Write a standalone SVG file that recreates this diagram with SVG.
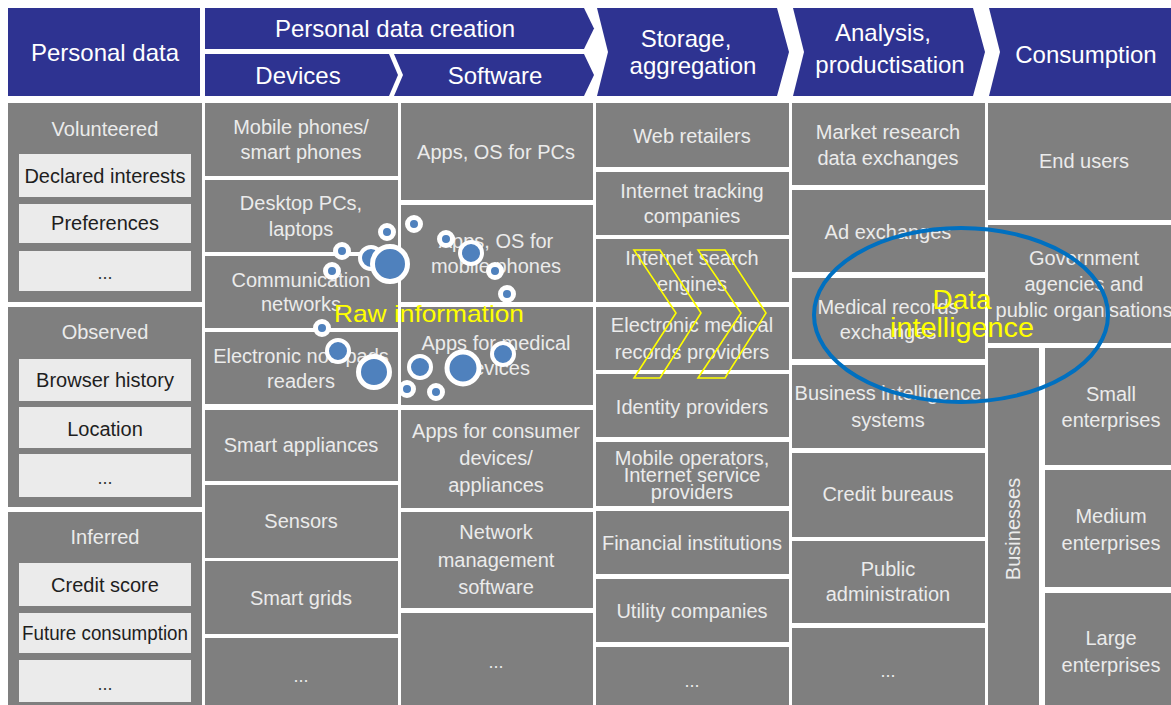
<svg xmlns="http://www.w3.org/2000/svg" width="1171" height="705" viewBox="0 0 1171 705">
<style>
.hdr{fill:#2e3391}
.pnl{fill:#7f7f7f}
.wb{fill:#ebebeb}
text{font-family:"Liberation Sans",Arial,sans-serif;text-anchor:middle}
.ht{fill:#ffffff;font-size:24px}
.lt{fill:#ebebeb;font-size:20px}
.dk{fill:#1e1e1e;font-size:20px}
.dots{fill:#ebebeb;font-size:18px}
.dotd{fill:#333333;font-size:18px}
.bs{fill:#4f81bd;stroke:#ffffff;stroke-width:5}
.bm{fill:#4f81bd;stroke:#ffffff;stroke-width:4}
.bl{fill:#4f81bd;stroke:#ffffff;stroke-width:5}
.yel{fill:#ffff00}
.chev{fill:none;stroke:#ffff00;stroke-width:1.6;stroke-linejoin:miter}
</style>
<rect width="1171" height="705" fill="#ffffff"/>

<!-- Headers -->
<g id="hdr-personal-data"><rect class="hdr" x="8" y="8" width="192" height="88"/><text class="ht" x="105" y="61">Personal data</text></g>
<g id="hdr-creation"><polygon class="hdr" points="205,8 584,8 594,28.5 584,49 205,49"/><text class="ht" x="395" y="37">Personal data creation</text></g>
<g id="hdr-devices"><polygon class="hdr" points="205,54 389,54 398,75 389,96 205,96"/><text class="ht" x="298" y="84">Devices</text></g>
<g id="hdr-software"><polygon class="hdr" points="394,54 584,54 594,75 584,96 394,96 403,75"/><text class="ht" x="495" y="84">Software</text></g>
<g id="hdr-storage"><polygon class="hdr" points="597,8 777,8 789,52 777,96 597,96 608,52"/><text class="ht" x="686" y="47">Storage,</text><text class="ht" x="693" y="74">aggregation</text></g>
<g id="hdr-analysis"><polygon class="hdr" points="793,8 973,8 985,52 973,96 793,96 804,52"/><text class="ht" x="883" y="41">Analysis,</text><text class="ht" x="890" y="73">productisation</text></g>
<g id="hdr-consumption"><polygon class="hdr" points="989,8 1171,8 1171,96 989,96 1000,52"/><text class="ht" x="1086" y="63">Consumption</text></g>

<!-- Column 1: Personal data -->
<g id="volunteered">
<rect class="pnl" x="8" y="103" width="194" height="199"/>
<text class="lt" x="105" y="136">Volunteered</text>
<rect class="wb" x="19" y="154" width="172" height="43"/><text class="dk" x="105" y="183">Declared interests</text>
<rect class="wb" x="19" y="204" width="172" height="39"/><text class="dk" x="105" y="230">Preferences</text>
<rect class="wb" x="19" y="251" width="172" height="40"/><text class="dotd" x="105" y="279">...</text>
</g>
<g id="observed">
<rect class="pnl" x="8" y="307" width="194" height="200"/>
<text class="lt" x="105" y="339">Observed</text>
<rect class="wb" x="19" y="359" width="172" height="42"/><text class="dk" x="105" y="387">Browser history</text>
<rect class="wb" x="19" y="407" width="172" height="41"/><text class="dk" x="105" y="436">Location</text>
<rect class="wb" x="19" y="454" width="172" height="43"/><text class="dotd" x="105" y="484">...</text>
</g>
<g id="inferred">
<rect class="pnl" x="8" y="512" width="194" height="193"/>
<text class="lt" x="105" y="544">Inferred</text>
<rect class="wb" x="19" y="563" width="172" height="43"/><text class="dk" x="105" y="592">Credit score</text>
<rect class="wb" x="19" y="613" width="172" height="40"/><text class="dk" x="105" y="640" textLength="166" lengthAdjust="spacingAndGlyphs">Future consumption</text>
<rect class="wb" x="19" y="660" width="172" height="42"/><text class="dotd" x="105" y="690">...</text>
</g>

<!-- Column 2: Devices -->
<g id="dev-mobile"><rect class="pnl" x="205" y="103" width="193" height="73"/><text class="lt" x="301" y="134">Mobile phones/</text><text class="lt" x="301" y="159">smart phones</text></g>
<g id="dev-desktop"><rect class="pnl" x="205" y="180" width="193" height="72"/><text class="lt" x="301" y="210">Desktop PCs,</text><text class="lt" x="301" y="236">laptops</text></g>
<g id="dev-comm"><rect class="pnl" x="205" y="256" width="193" height="72"/><text class="lt" x="301" y="287">Communication</text><text class="lt" x="301" y="311">networks</text></g>
<g id="dev-notepads"><rect class="pnl" x="205" y="332" width="193" height="72"/><text class="lt" x="301" y="363">Electronic notepads</text><text class="lt" x="301" y="388">readers</text></g>
<g id="dev-appliances"><rect class="pnl" x="205" y="410" width="193" height="71"/><text class="lt" x="301" y="452">Smart appliances</text></g>
<g id="dev-sensors"><rect class="pnl" x="205" y="485" width="193" height="73"/><text class="lt" x="301" y="528">Sensors</text></g>
<g id="dev-grids"><rect class="pnl" x="205" y="561" width="193" height="73"/><text class="lt" x="301" y="605">Smart grids</text></g>
<g id="dev-more"><rect class="pnl" x="205" y="638" width="193" height="67"/><text class="dots" x="301" y="682">...</text></g>

<!-- Column 3: Software -->
<g id="sw-pcs"><rect class="pnl" x="401" y="103" width="192" height="97"/><text class="lt" x="496" y="159">Apps, OS for PCs</text></g>
<g id="sw-mobile"><rect class="pnl" x="401" y="205" width="192" height="97"/><text class="lt" x="496" y="248">Apps, OS for</text><text class="lt" x="496" y="273">mobile phones</text></g>
<g id="sw-medical"><rect class="pnl" x="401" y="307" width="192" height="98"/><text class="lt" x="496" y="350">Apps for medical</text><text class="lt" x="496" y="375">devices</text></g>
<g id="sw-consumer"><rect class="pnl" x="401" y="410" width="192" height="98"/><text class="lt" x="496" y="438">Apps for consumer</text><text class="lt" x="496" y="465">devices/</text><text class="lt" x="496" y="492">appliances</text></g>
<g id="sw-network"><rect class="pnl" x="401" y="512" width="192" height="96"/><text class="lt" x="496" y="539">Network</text><text class="lt" x="496" y="567">management</text><text class="lt" x="496" y="594">software</text></g>
<g id="sw-more"><rect class="pnl" x="401" y="613" width="192" height="92"/><text class="dots" x="496" y="668">...</text></g>

<!-- Column 4: Storage, aggregation -->
<g id="st-web"><rect class="pnl" x="596" y="103" width="193" height="64"/><text class="lt" x="692" y="143">Web retailers</text></g>
<g id="st-tracking"><rect class="pnl" x="596" y="172" width="193" height="63"/><text class="lt" x="692" y="198">Internet tracking</text><text class="lt" x="692" y="223">companies</text></g>
<g id="st-search"><rect class="pnl" x="596" y="239" width="193" height="63"/><text class="lt" x="692" y="265">Internet search</text><text class="lt" x="692" y="291">engines</text></g>
<g id="st-emr"><rect class="pnl" x="596" y="307" width="193" height="63"/><text class="lt" x="692" y="332">Electronic medical</text><text class="lt" x="692" y="359">records providers</text></g>
<g id="st-identity"><rect class="pnl" x="596" y="374" width="193" height="63"/><text class="lt" x="692" y="414">Identity providers</text></g>
<g id="st-mobileops"><rect class="pnl" x="596" y="442" width="193" height="64"/><text class="lt" x="692" y="465">Mobile operators,</text><text class="lt" x="692" y="482">Internet service</text><text class="lt" x="692" y="499">providers</text></g>
<g id="st-financial"><rect class="pnl" x="596" y="511" width="193" height="63"/><text class="lt" x="692" y="550">Financial institutions</text></g>
<g id="st-utility"><rect class="pnl" x="596" y="579" width="193" height="63"/><text class="lt" x="692" y="618">Utility companies</text></g>
<g id="st-more"><rect class="pnl" x="596" y="647" width="193" height="58"/><text class="dots" x="692" y="687">...</text></g>

<!-- Column 5: Analysis, productisation -->
<g id="an-market"><rect class="pnl" x="792" y="103" width="193" height="82"/><text class="lt" x="888" y="139">Market research</text><text class="lt" x="888" y="165">data exchanges</text></g>
<g id="an-ad"><rect class="pnl" x="792" y="190" width="193" height="82"/><text class="lt" x="888" y="239">Ad exchanges</text></g>
<g id="an-medical"><rect class="pnl" x="792" y="278" width="193" height="81"/><text class="lt" x="888" y="314">Medical records</text><text class="lt" x="888" y="339">exchanges</text></g>
<g id="an-bi"><rect class="pnl" x="792" y="365" width="193" height="83"/><text class="lt" x="888" y="400">Business intelligence</text><text class="lt" x="888" y="427">systems</text></g>
<g id="an-credit"><rect class="pnl" x="792" y="453" width="193" height="84"/><text class="lt" x="888" y="501">Credit bureaus</text></g>
<g id="an-public"><rect class="pnl" x="792" y="541" width="193" height="82"/><text class="lt" x="888" y="576">Public</text><text class="lt" x="888" y="601">administration</text></g>
<g id="an-more"><rect class="pnl" x="792" y="628" width="193" height="77"/><text class="dots" x="888" y="677">...</text></g>

<!-- Column 6: Consumption -->
<g id="co-endusers"><rect class="pnl" x="988" y="103" width="183" height="117"/><text class="lt" x="1084" y="168">End users</text></g>
<g id="co-government"><rect class="pnl" x="988" y="225" width="183" height="118"/><text class="lt" x="1084" y="265">Government</text><text class="lt" x="1084" y="291">agencies and</text><text class="lt" x="1084" y="317">public organisations</text></g>
<g id="co-businesses"><rect class="pnl" x="988" y="348" width="51" height="357"/><text class="lt" x="0" y="0" transform="translate(1020,529) rotate(-90)">Businesses</text></g>
<g id="co-small"><rect class="pnl" x="1045" y="348" width="126" height="117"/><text class="lt" x="1111" y="401">Small</text><text class="lt" x="1111" y="427">enterprises</text></g>
<g id="co-medium"><rect class="pnl" x="1045" y="470" width="126" height="117"/><text class="lt" x="1111" y="523">Medium</text><text class="lt" x="1111" y="550">enterprises</text></g>
<g id="co-large"><rect class="pnl" x="1045" y="593" width="126" height="112"/><text class="lt" x="1111" y="645">Large</text><text class="lt" x="1111" y="672">enterprises</text></g>

<!-- Raw information bubbles -->
<g id="raw-information">
<circle class="bs" cx="414" cy="224" r="6.5"/>
<circle class="bs" cx="387" cy="232" r="6.5"/>
<circle class="bs" cx="446" cy="239" r="6.5"/>
<circle class="bs" cx="342" cy="251" r="6.5"/>
<circle class="bm" cx="371" cy="258" r="11"/>
<circle class="bl" cx="390" cy="264" r="17.5"/>
<circle class="bm" cx="471" cy="253" r="11"/>
<circle class="bs" cx="332" cy="271" r="6.5"/>
<circle class="bs" cx="495" cy="271" r="6.5"/>
<circle class="bs" cx="507" cy="294" r="6.5"/>
<circle class="bs" cx="322" cy="328" r="6.5"/>
<circle class="bm" cx="338" cy="351" r="11"/>
<circle class="bl" cx="374" cy="372" r="15.5"/>
<circle class="bm" cx="420" cy="367" r="11"/>
<circle class="bl" cx="463" cy="368" r="16"/>
<circle class="bm" cx="503" cy="354" r="11"/>
<circle class="bs" cx="407" cy="389" r="6.5"/>
<circle class="bs" cx="436" cy="392" r="6.5"/>
<text class="yel" x="429" y="322" font-size="24" textLength="190" lengthAdjust="spacingAndGlyphs">Raw information</text>
</g>

<!-- Flow arrows -->
<g id="connectors">
<polygon class="chev" points="634,250 660,250 701,313 660,378 634,378 676,313"/>
<polygon class="chev" points="698,250 725,250 766,313 725,378 698,378 741,313"/>
</g>

<!-- Data intelligence -->
<g id="data-intelligence">
<ellipse cx="961" cy="315" rx="147" ry="87" fill="none" stroke="#0070c0" stroke-width="4"/>
<text class="yel" x="962" y="309" font-size="27" textLength="59" lengthAdjust="spacingAndGlyphs">Data</text>
<text class="yel" x="962" y="337" font-size="27" textLength="144" lengthAdjust="spacingAndGlyphs">intelligence</text>
</g>
</svg>
